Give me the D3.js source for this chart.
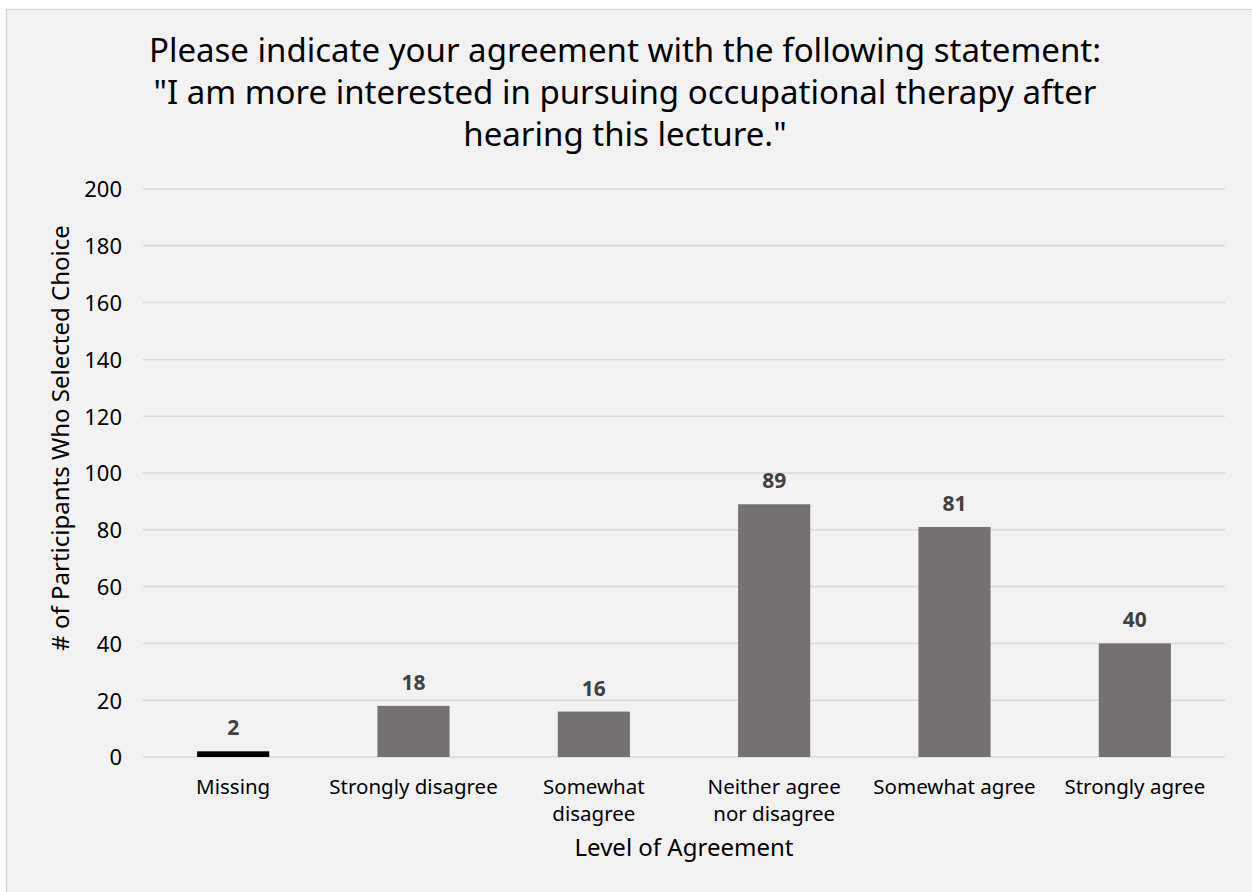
<!DOCTYPE html>
<html>
<head>
<meta charset="utf-8">
<script src="https://cdn.jsdelivr.net/npm/d3@7"></script>
<style>
  html, body { margin: 0; padding: 0; background: #ffffff; }
  svg { display: block; font-family: "Noto Sans", "DejaVu Sans", sans-serif; }
</style>
</head>
<body>
<svg id="chart" width="1252" height="892"></svg>
<script>
// Survey responses
const categories = ["Missing", "Strongly disagree", "Somewhat disagree", "Neither agree nor disagree", "Somewhat agree", "Strongly agree"];
const categoryLines = [["Missing"], ["Strongly disagree"], ["Somewhat", "disagree"], ["Neither agree", "nor disagree"], ["Somewhat agree"], ["Strongly agree"]];
const counts = [2, 18, 16, 89, 81, 40];
const barColors = ["#000000", "#767171", "#767171", "#767171", "#767171", "#767171"];
const yTicks = [0, 20, 40, 60, 80, 100, 120, 140, 160, 180, 200];
const titleLines = [
  "Please indicate your agreement with the following statement:",
  "\"I am more interested in pursuing occupational therapy after",
  "hearing this lecture.\""
];

const svg = d3.select("#chart");
const W = 1252, H = 892;

// Chart panel
svg.append("rect")
  .attr("x", 6.5).attr("y", 9.5)
  .attr("width", W).attr("height", H)
  .attr("fill", "#f2f2f2")
  .attr("stroke", "#d9d9d9").attr("stroke-width", 1.5);

const plot = { left: 143, right: 1225, top: 189, bottom: 757 };

const x = d3.scaleBand()
  .domain(categories)
  .range([plot.left, plot.right])
  .paddingInner(0.6).paddingOuter(0.3);

const y = d3.scaleLinear()
  .domain([0, 200])
  .range([plot.bottom, plot.top]);

// Gridlines
svg.append("g")
  .selectAll("line")
  .data(yTicks)
  .join("line")
  .attr("x1", plot.left).attr("x2", plot.right)
  .attr("y1", d => y(d)).attr("y2", d => y(d))
  .attr("stroke", "#d9d9d9").attr("stroke-width", 1.5);

// Y axis labels
const yAxis = svg.append("g")
  .attr("transform", `translate(${plot.left - 21},0)`)
  .call(d3.axisLeft(y).tickValues(yTicks).tickSize(0).tickPadding(0));
yAxis.select(".domain").remove();
yAxis.selectAll("text")
  .attr("font-size", 22).attr("fill", "#000")
  .attr("font-family", "\"Noto Sans\", sans-serif")
  .attr("dy", "0.36em");

// Bars
svg.append("g")
  .selectAll("rect")
  .data(categories)
  .join("rect")
  .attr("x", d => x(d))
  .attr("width", x.bandwidth())
  .attr("y", (d, i) => y(counts[i]))
  .attr("height", (d, i) => y(0) - y(counts[i]))
  .attr("fill", (d, i) => barColors[i]);

// Value labels
svg.append("g")
  .selectAll("text")
  .data(categories)
  .join("text")
  .attr("x", d => x(d) + x.bandwidth() / 2)
  .attr("y", (d, i) => y(counts[i]) - 16)
  .attr("text-anchor", "middle")
  .attr("font-size", 21).attr("font-weight", "bold")
  .attr("fill", "#404040")
  .text((d, i) => counts[i]);

// X category labels, one text per line
const catLineData = categories.flatMap((c, i) =>
  categoryLines[i].map((t, j) => ({ cat: c, text: t, line: j })));
svg.append("g")
  .selectAll("text")
  .data(catLineData)
  .join("text")
  .attr("x", d => x(d.cat) + x.bandwidth() / 2)
  .attr("y", d => 794 + d.line * 27)
  .attr("text-anchor", "middle")
  .attr("font-size", 20.5).attr("fill", "#000")
  .text(d => d.text);

// Axis titles
svg.append("text")
  .attr("x", (plot.left + plot.right) / 2)
  .attr("y", 856)
  .attr("text-anchor", "middle")
  .attr("font-size", 24).attr("fill", "#000")
  .text("Level of Agreement");

svg.append("text")
  .attr("transform", `translate(69,438) rotate(-90)`)
  .attr("text-anchor", "middle")
  .attr("font-size", 24).attr("fill", "#000")
  .text("# of Participants Who Selected Choice");

// Title
svg.append("g")
  .selectAll("text")
  .data(titleLines)
  .join("text")
  .attr("x", 625)
  .attr("y", (d, i) => 62 + i * 42)
  .attr("text-anchor", "middle")
  .attr("font-size", 33).attr("fill", "#000")
  .text(d => d);
</script>
</body>
</html>
